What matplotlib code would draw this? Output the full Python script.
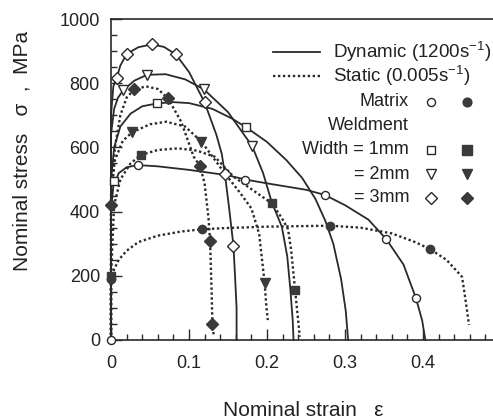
import matplotlib
matplotlib.use("Agg")
import matplotlib.pyplot as plt
from matplotlib.lines import Line2D

plt.rcParams['font.family'] = ['Liberation Sans', 'DejaVu Sans']
plt.rcParams['mathtext.fontset'] = 'custom'
plt.rcParams['mathtext.rm'] = 'Liberation Sans'
plt.rcParams['mathtext.it'] = 'Liberation Sans:italic'

# ---------------- data (strain, stress MPa) ----------------
# Dynamic (solid)
dyn_matrix_x = [0, 0, 0.003, 0.01, 0.02, 0.034, 0.06, 0.1, 0.15, 0.172, 0.2, 0.25, 0.274, 0.3, 0.33, 0.353, 0.375, 0.391, 0.399, 0.403]
dyn_matrix_y = [0, 400, 480, 520, 538, 545, 541, 530, 513, 500, 488, 468, 452, 420, 375, 314, 235, 130, 60, 0]
dyn_matrix_mx = [0, 0.034, 0.172, 0.274, 0.353, 0.391]
dyn_matrix_my = [0, 545, 500, 452, 314, 130]

dyn_1mm_x = [0, 0, 0.004, 0.012, 0.025, 0.04, 0.059, 0.08, 0.1, 0.13, 0.155, 0.173, 0.2, 0.225, 0.245, 0.262, 0.275, 0.285, 0.295, 0.301, 0.304]
dyn_1mm_y = [0, 495, 600, 665, 705, 728, 737, 741, 738, 720, 690, 663, 617, 560, 505, 440, 370, 300, 190, 90, 0]
dyn_1mm_mx = [0.004, 0.059, 0.173]
dyn_1mm_my = [495, 737, 663]

dyn_2mm_x = [0, 0, 0.004, 0.009, 0.016, 0.03, 0.046, 0.07, 0.095, 0.119, 0.15, 0.181, 0.195, 0.206, 0.219, 0.226, 0.23, 0.233, 0.234]
dyn_2mm_y = [0, 640, 720, 755, 779, 808, 826, 828, 812, 781, 710, 604, 520, 430, 353, 260, 156, 60, 0]
dyn_2mm_mx = [0.016, 0.046, 0.119, 0.181]
dyn_2mm_my = [779, 826, 781, 604]

dyn_3mm_x = [0, 0, 0.003, 0.0073, 0.012, 0.02, 0.035, 0.052, 0.068, 0.083, 0.1, 0.12, 0.135, 0.142, 0.146, 0.151, 0.157, 0.159, 0.161, 0.161]
dyn_3mm_y = [0, 700, 790, 817, 855, 891, 912, 921, 913, 890, 835, 740, 640, 580, 517, 420, 294, 200, 100, 0]
dyn_3mm_mx = [0.0073, 0.02, 0.052, 0.083, 0.12, 0.146, 0.157]
dyn_3mm_my = [817, 891, 921, 890, 740, 517, 294]

# Static (dotted)
sta_matrix_x = [0, 0, 0.003, 0.01, 0.02, 0.035, 0.06, 0.09, 0.117, 0.15, 0.2, 0.25, 0.281, 0.32, 0.36, 0.39, 0.409, 0.43, 0.45, 0.453, 0.456, 0.459]
sta_matrix_y = [0, 190, 215, 250, 278, 305, 325, 338, 345, 349, 353, 355, 356, 350, 332, 305, 283, 250, 197, 150, 100, 47]
sta_matrix_mx = [0, 0.117, 0.281, 0.409]
sta_matrix_my = [190, 345, 356, 283]

sta_1mm_x = [0, 0, 0.004, 0.012, 0.025, 0.038, 0.06, 0.086, 0.11, 0.133, 0.157, 0.18, 0.206, 0.219, 0.227, 0.231, 0.236, 0.24, 0.242]
sta_1mm_y = [0, 200, 420, 500, 550, 576, 592, 597, 590, 571, 509, 470, 426, 380, 345, 280, 156, 60, 10]
sta_1mm_mx = [0, 0.038, 0.206, 0.236]
sta_1mm_my = [200, 576, 426, 156]

sta_2mm_x = [0, 0, 0.005, 0.015, 0.027, 0.05, 0.071, 0.095, 0.116, 0.146, 0.165, 0.18, 0.19, 0.197, 0.199, 0.201]
sta_2mm_y = [0, 450, 560, 620, 647, 672, 680, 665, 618, 519, 460, 410, 330, 177, 110, 62]
sta_2mm_mx = [0.027, 0.116, 0.197]
sta_2mm_my = [647, 618, 177]

sta_3mm_x = [0, 0, 0.005, 0.012, 0.02, 0.03, 0.045, 0.06, 0.073, 0.09, 0.106, 0.114, 0.12, 0.125, 0.127, 0.129, 0.13, 0.132]
sta_3mm_y = [0, 420, 600, 700, 755, 781, 790, 782, 753, 680, 571, 543, 488, 380, 309, 150, 49, 10]
sta_3mm_mx = [0, 0.03, 0.073, 0.114, 0.127, 0.13]
sta_3mm_my = [420, 781, 753, 543, 309, 49]

x_ticks = [0, 0.1, 0.2, 0.3, 0.4]
x_ticklabels = ['0', '0.1', '0.2', '0.3', '0.4']
y_ticks = [0, 200, 400, 600, 800, 1000]

# ---------------- figure ----------------
W, H = 493, 418
fig = plt.figure(figsize=(W / 100, H / 100), dpi=100)
ax = fig.add_axes([111 / W, 1 - 340 / H, (W - 111) / W, (340 - 19) / H])

ink = '#2a2a2a'
fill = '#3a3a3a'
lw_solid = 1.3
dot_style = (0, (1.0, 1.1))
lw_dot = 1.7

solid_curves = [
    (dyn_matrix_x, dyn_matrix_y, dyn_matrix_mx, dyn_matrix_my, 'o', 5.8),
    (dyn_1mm_x, dyn_1mm_y, dyn_1mm_mx, dyn_1mm_my, 's', 6.0),
    (dyn_2mm_x, dyn_2mm_y, dyn_2mm_mx, dyn_2mm_my, 'v', 6.8),
    (dyn_3mm_x, dyn_3mm_y, dyn_3mm_mx, dyn_3mm_my, 'D', 5.8),
]
dotted_curves = [
    (sta_matrix_x, sta_matrix_y, sta_matrix_mx, sta_matrix_my, 'o', 6.0),
    (sta_1mm_x, sta_1mm_y, sta_1mm_mx, sta_1mm_my, 's', 6.0),
    (sta_2mm_x, sta_2mm_y, sta_2mm_mx, sta_2mm_my, 'v', 6.8),
    (sta_3mm_x, sta_3mm_y, sta_3mm_mx, sta_3mm_my, 'D', 6.0),
]

for x, y, mx, my, m, ms in dotted_curves:
    ax.plot(x, y, color=ink, lw=lw_dot, linestyle=dot_style, zorder=2, clip_on=False)
    ax.plot(mx, my, linestyle='none', marker=m, ms=ms, mfc=fill, mec=fill, zorder=4, clip_on=False)
for x, y, mx, my, m, ms in solid_curves:
    ax.plot(x, y, color=ink, lw=lw_solid, zorder=3, clip_on=False)
    ax.plot(mx, my, linestyle='none', marker=m, ms=ms, mfc='white', mec=ink, mew=1.0, zorder=5, clip_on=False)

ax.set_xlim(0, (W - 111) / 780)
ax.set_ylim(0, 1000)
ax.set_xticks(x_ticks)
ax.set_xticklabels(x_ticklabels)
ax.set_xticks([i * 0.02 for i in range(25)], minor=True)
ax.set_yticks(y_ticks)
ax.set_yticks(list(range(0, 1001, 50)), minor=True)
ax.tick_params(which='major', direction='in', length=8, width=1.0, labelsize=13, color=ink, labelcolor='#222222')
ax.tick_params(axis='x', which='major', pad=11)
ax.tick_params(axis='y', which='major', pad=8)
ax.tick_params(which='minor', direction='in', length=4, width=1.0, color=ink)
for s in ['left', 'bottom', 'top']:
    ax.spines[s].set_linewidth(1.2)
    ax.spines[s].set_color(ink)
ax.spines['right'].set_visible(False)

ax.set_xlabel('Nominal strain   ε', fontsize=15, color='#222222', va='center')
ax.xaxis.set_label_coords(0.503, (340 - 410) / 321)
ax.set_ylabel('Nominal stress   σ  ,  MPa', fontsize=15, color='#222222', va='center')
ax.yaxis.set_label_coords((22 - 111) / 382, (340 - 151) / 321)

# ---------------- legend (manual, figure pixel coords) ----------------
def fx(px):
    return px / W

def fy(py):
    return 1 - py / H

fs = 13
fig.add_artist(Line2D([fx(273), fx(320)], [fy(52), fy(52)], color=ink, lw=lw_solid))
fig.text(fx(333), fy(52), 'Dynamic (1200s$^{\\mathregular{-1}}$)', fontsize=fs + 0.5, va='center', ha='left', color='#222222')
fig.add_artist(Line2D([fx(273), fx(320)], [fy(76), fy(76)], color=ink, lw=lw_dot, linestyle=dot_style))
fig.text(fx(333), fy(76), 'Static (0.005s$^{\\mathregular{-1}}$)', fontsize=fs + 0.5, va='center', ha='left', color='#222222')

rows = [('Matrix', 102, 'o', 5.8), ('Weldment', 125, None, 0), ('Width = 1mm', 150, 's', 6.0),
        ('= 2mm', 174, 'v', 6.8), ('= 3mm', 198, 'D', 5.8)]
for label, py, m, ms in rows:
    fig.text(fx(409), fy(py), label, fontsize=fs, va='center', ha='right', color='#222222')
    if m is not None:
        fig.add_artist(Line2D([fx(431)], [fy(py)], marker=m, ms=ms, mfc='white', mec=ink, mew=1.0, linestyle='none'))
        fig.add_artist(Line2D([fx(467)], [fy(py)], marker=m, ms=ms + 0.5, mfc=fill, mec=fill, linestyle='none'))

fig.savefig('out.png', dpi=100)
